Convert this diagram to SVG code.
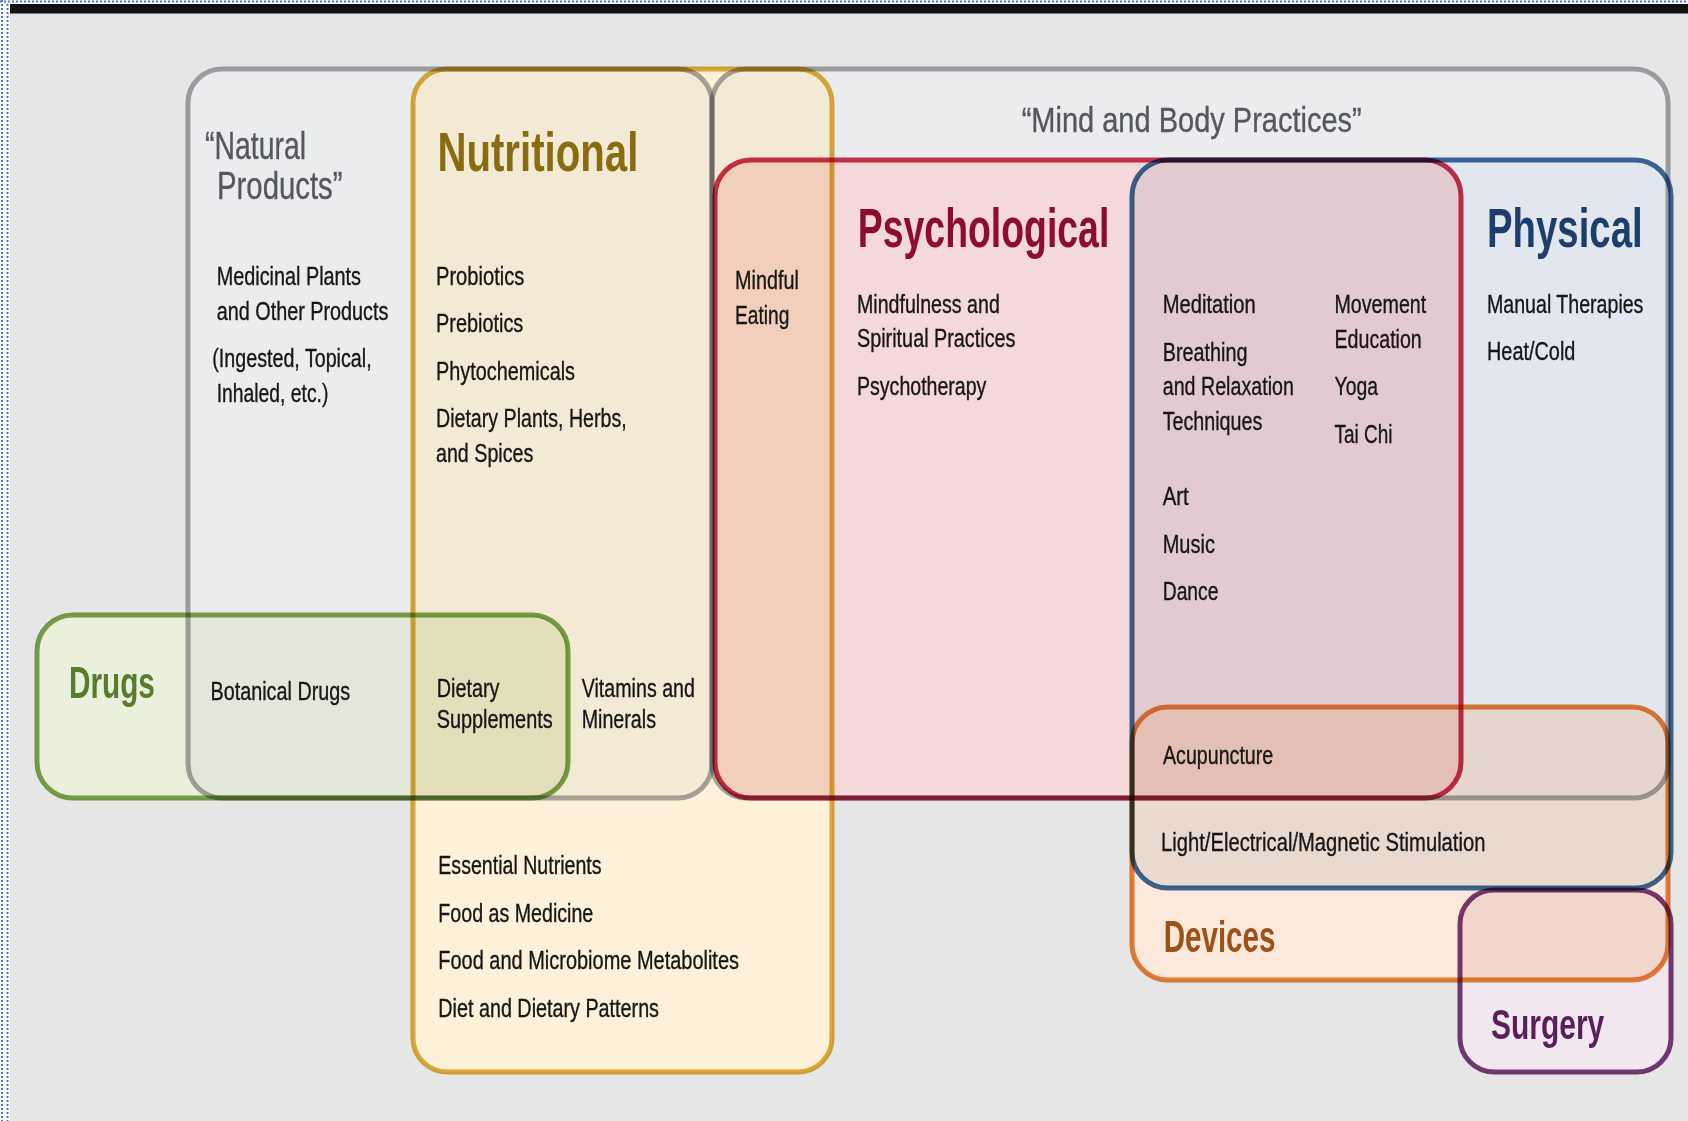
<svg xmlns="http://www.w3.org/2000/svg" width="1688" height="1121" viewBox="0 0 1688 1121">
<style>
.t{font-family:"Liberation Sans",Arial,Helvetica,sans-serif;font-size:26px;fill:#161616;stroke:#161616;stroke-width:0.35}
.g{font-size:39px;fill:#55575b;stroke:#55575b}
.b{font-weight:bold;stroke-width:0}
.st{fill:none;stroke-width:5;mix-blend-mode:multiply;stroke-opacity:0.92}
.dot{stroke:#4f72cf;stroke-width:2;stroke-dasharray:2 2;fill:none}
</style>
<defs>
<rect id="rN" x="188" y="69" width="524" height="729" rx="34"/>
<rect id="rM" x="712" y="69" width="956" height="729" rx="34"/>
<rect id="rU" x="413" y="69" width="419" height="1003" rx="34"/>
<rect id="rD" x="37" y="615" width="531" height="183" rx="36"/>
<rect id="rP" x="715" y="160" width="746" height="638" rx="36"/>
<rect id="rH" x="1132" y="160" width="539" height="728" rx="36"/>
<rect id="rV" x="1132" y="707" width="536" height="273" rx="36"/>
<rect id="rS" x="1460" y="890" width="211" height="182" rx="34"/>
<clipPath id="cN"><use href="#rN"/></clipPath>
<clipPath id="cM"><use href="#rM"/></clipPath>
<clipPath id="cU"><use href="#rU"/></clipPath>
<clipPath id="cP"><use href="#rP"/></clipPath>
<clipPath id="cH"><use href="#rH"/></clipPath>
<clipPath id="cV"><use href="#rV"/></clipPath>
</defs>

<g id="frame">
<rect x="0" y="0" width="1688" height="1121" fill="#ffffff"/>
<rect x="10" y="13" width="1678" height="1108" fill="#e6e6e6"/>
<rect x="10" y="4" width="1678" height="9.5" fill="#111111"/>
<path class="dot" d="M0 1.5H1688M2 0V1121M7.5 4V1121"/>
</g>

<g id="regions">
<use href="#rN" fill="#ebecee"/>
<use href="#rM" fill="#ebecee"/>
<use href="#rU" fill="#fdf1da"/>
<g clip-path="url(#cN)"><use href="#rU" fill="#f3ead6"/></g>
<g clip-path="url(#cM)"><use href="#rU" fill="#f3ead6"/></g>
<use href="#rP" fill="#f4d8da"/>
<g clip-path="url(#cU)"><use href="#rP" fill="#f2cfbb"/></g>
<use href="#rH" fill="#e2e6ee"/>
<g clip-path="url(#cP)"><use href="#rH" fill="#e1cbd1"/></g>
<use href="#rV" fill="#fde9db"/>
<g clip-path="url(#cH)"><use href="#rV" fill="#e9dad0"/></g>
<g clip-path="url(#cM)"><g clip-path="url(#cH)"><use href="#rV" fill="#e4d6cc"/></g></g>
<g clip-path="url(#cP)"><use href="#rV" fill="#e4bfb5"/></g>
<use href="#rS" fill="#f0e8ee"/>
<g clip-path="url(#cV)"><use href="#rS" fill="#f2d6cc"/></g>
<use href="#rD" fill="#ebf0dd"/>
<g clip-path="url(#cN)"><use href="#rD" fill="#e3e7d7"/></g>
<g clip-path="url(#cU)"><use href="#rD" fill="#e3dfbb"/></g>
</g>

<g id="connectors"></g>

<g id="natural-products">
<use href="#rN" class="st" stroke="#a2a3a6"/>
<text class="t g" x="205" y="159" textLength="101" lengthAdjust="spacingAndGlyphs">“Natural</text>
<text class="t g" x="217" y="199" textLength="125.5" lengthAdjust="spacingAndGlyphs">Products”</text>
<text class="t" x="216.7" y="285" textLength="144.3" lengthAdjust="spacingAndGlyphs">Medicinal Plants</text>
<text class="t" x="216.7" y="320" textLength="171.7" lengthAdjust="spacingAndGlyphs">and Other Products</text>
<text class="t" x="212.3" y="367" textLength="159.3" lengthAdjust="spacingAndGlyphs">(Ingested, Topical,</text>
<text class="t" x="216.7" y="401.7" textLength="111.7" lengthAdjust="spacingAndGlyphs">Inhaled, etc.)</text>
</g>

<g id="mind-body">
<use href="#rM" class="st" stroke="#a2a3a6"/>
<text class="t" x="1021.7" y="131.7" style="font-size:35px;fill:#55575b;stroke:#55575b" textLength="340" lengthAdjust="spacingAndGlyphs">“Mind and Body Practices”</text>
</g>

<g id="nutritional">
<use href="#rU" class="st" stroke="#dcaa2c"/>
<text class="t b" x="437.4" y="170.7" style="font-size:56px;fill:#8a6c10" textLength="201" lengthAdjust="spacingAndGlyphs">Nutritional</text>
<text class="t" x="436" y="285" textLength="88.3" lengthAdjust="spacingAndGlyphs">Probiotics</text>
<text class="t" x="436" y="331.7" textLength="87.3" lengthAdjust="spacingAndGlyphs">Prebiotics</text>
<text class="t" x="436" y="380" textLength="139" lengthAdjust="spacingAndGlyphs">Phytochemicals</text>
<text class="t" x="436" y="426.7" textLength="190.7" lengthAdjust="spacingAndGlyphs">Dietary Plants, Herbs,</text>
<text class="t" x="436" y="461.7" textLength="97.3" lengthAdjust="spacingAndGlyphs">and Spices</text>
<text class="t" x="436.7" y="697" textLength="62.7" lengthAdjust="spacingAndGlyphs">Dietary</text>
<text class="t" x="436.7" y="728" textLength="116" lengthAdjust="spacingAndGlyphs">Supplements</text>
<text class="t" x="581.7" y="697" textLength="113.3" lengthAdjust="spacingAndGlyphs">Vitamins and</text>
<text class="t" x="581.7" y="728" textLength="74.3" lengthAdjust="spacingAndGlyphs">Minerals</text>
<text class="t" x="735" y="289.3" textLength="63.8" lengthAdjust="spacingAndGlyphs">Mindful</text>
<text class="t" x="735" y="324.3" textLength="54.4" lengthAdjust="spacingAndGlyphs">Eating</text>
<text class="t" x="438.3" y="874.3" textLength="163.3" lengthAdjust="spacingAndGlyphs">Essential Nutrients</text>
<text class="t" x="438.3" y="922.3" textLength="155" lengthAdjust="spacingAndGlyphs">Food as Medicine</text>
<text class="t" x="438.3" y="969.3" textLength="300.7" lengthAdjust="spacingAndGlyphs">Food and Microbiome Metabolites</text>
<text class="t" x="438.3" y="1016.7" textLength="220.7" lengthAdjust="spacingAndGlyphs">Diet and Dietary Patterns</text>
</g>

<g id="drugs">
<use href="#rD" class="st" stroke="#72a03e"/>
<text class="t b" x="68.9" y="698" style="font-size:44px;fill:#587c2b" textLength="86" lengthAdjust="spacingAndGlyphs">Drugs</text>
<text class="t" x="210.5" y="700" textLength="139.7" lengthAdjust="spacingAndGlyphs">Botanical Drugs</text>
</g>

<g id="psychological">
<use href="#rP" class="st" stroke="#c92242"/>
<text class="t b" x="857.8" y="246.7" style="font-size:56px;fill:#8c0d2d" textLength="251.5" lengthAdjust="spacingAndGlyphs">Psychological</text>
<text class="t" x="857" y="312.7" textLength="142.8" lengthAdjust="spacingAndGlyphs">Mindfulness and</text>
<text class="t" x="857" y="346.7" textLength="158.5" lengthAdjust="spacingAndGlyphs">Spiritual Practices</text>
<text class="t" x="857" y="395" textLength="129.4" lengthAdjust="spacingAndGlyphs">Psychotherapy</text>
</g>

<g id="physical">
<use href="#rH" class="st" stroke="#2e5e93"/>
<text class="t b" x="0" y="0" transform="translate(1487 247.3) scale(0.685 1)" style="font-size:56px;fill:#1d3e6c" textLength="227.2" lengthAdjust="spacingAndGlyphs">Physical</text>
<text class="t" x="0" y="0" transform="translate(1487 313.3) scale(0.752 1)" textLength="208" lengthAdjust="spacingAndGlyphs">Manual Therapies</text>
<text class="t" x="1487" y="360" textLength="88.4" lengthAdjust="spacingAndGlyphs">Heat/Cold</text>
<text class="t" x="1162.7" y="313.3" textLength="93.1" lengthAdjust="spacingAndGlyphs">Meditation</text>
<text class="t" x="1162.7" y="361" textLength="84.8" lengthAdjust="spacingAndGlyphs">Breathing</text>
<text class="t" x="1162.7" y="395" textLength="131.2" lengthAdjust="spacingAndGlyphs">and Relaxation</text>
<text class="t" x="1162.7" y="430" textLength="99.6" lengthAdjust="spacingAndGlyphs">Techniques</text>
<text class="t" x="1162.7" y="505" textLength="26.1" lengthAdjust="spacingAndGlyphs">Art</text>
<text class="t" x="1162.7" y="552.7" textLength="52.2" lengthAdjust="spacingAndGlyphs">Music</text>
<text class="t" x="1162.7" y="600" textLength="55.8" lengthAdjust="spacingAndGlyphs">Dance</text>
<text class="t" x="1334.5" y="313.3" textLength="91.7" lengthAdjust="spacingAndGlyphs">Movement</text>
<text class="t" x="1334.5" y="348.3" textLength="87.3" lengthAdjust="spacingAndGlyphs">Education</text>
<text class="t" x="1334.5" y="395" textLength="43.5" lengthAdjust="spacingAndGlyphs">Yoga</text>
<text class="t" x="1334.5" y="442.7" textLength="58" lengthAdjust="spacingAndGlyphs">Tai Chi</text>
</g>

<g id="devices">
<use href="#rV" class="st" stroke="#e77a2b"/>
<text class="t" x="1163" y="764.3" textLength="110.2" lengthAdjust="spacingAndGlyphs">Acupuncture</text>
<text class="t" x="1161.1" y="851" textLength="324.3" lengthAdjust="spacingAndGlyphs">Light/Electrical/Magnetic Stimulation</text>
<text class="t b" x="1163.7" y="951.7" style="font-size:44px;fill:#9b5219" textLength="111.7" lengthAdjust="spacingAndGlyphs">Devices</text>
</g>

<g id="surgery">
<use href="#rS" class="st" stroke="#6c2d6e"/>
<text class="t b" x="1491" y="1039.3" style="font-size:42px;fill:#5a1e5b" textLength="113.2" lengthAdjust="spacingAndGlyphs">Surgery</text>
</g>
</svg>
